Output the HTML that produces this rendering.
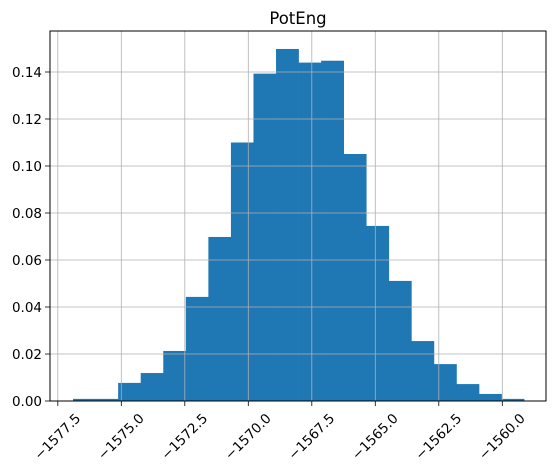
<!DOCTYPE html>
<html><head><meta charset="utf-8"><style>
html,body{margin:0;padding:0;background:#fff;width:556px;height:473px;overflow:hidden}
text{font-family:"DejaVu Sans","Liberation Sans",sans-serif;fill:#000}
</style></head><body>
<svg id="chart" width="556" height="473" viewBox="0 0 556 473" xmlns="http://www.w3.org/2000/svg">
<text x="298" y="24" text-anchor="middle" font-size="16.5">PotEng</text>
<g id="grid"></g>
<g id="bars"></g>
<g id="axes"></g>
</svg>
<script>
const binStart = -1576.90;
const binWidth = 0.888;
const densities = [0.0009,0.0009,0.0077,0.0119,0.0213,0.0443,0.0698,0.110,0.1393,0.1498,0.1440,0.1448,0.1051,0.0745,0.0511,0.0255,0.0157,0.0072,0.003,0.0009];
const xTicks = [-1577.5,-1575.0,-1572.5,-1570.0,-1567.5,-1565.0,-1562.5,-1560.0];
const yTicks = [0,0.02,0.04,0.06,0.08,0.10,0.12,0.14];

const L=50,R=546,T=31,B=401;
const xs = v => 248.3 + (v + 1570) * 25.4;
const ys = v => 401 - v * (47/0.02);
const NS='http://www.w3.org/2000/svg';
function mk(tag, parent){const e=document.createElementNS(NS,tag);parent.appendChild(e);return e;}
const svg=document.getElementById('chart');
const grid=document.getElementById('grid'),bars=document.getElementById('bars'),axes=document.getElementById('axes');
xTicks.forEach(t=>{
  const l=mk('line',grid);
  
  
  l.setAttribute('x1',xs(t));l.setAttribute('x2',xs(t));l.setAttribute('y1',T);l.setAttribute('y2',B);
  l.setAttribute('stroke','#b0b0b0');l.setAttribute('stroke-width','0.8');
  const tk=mk('line',axes);
  
  
  tk.setAttribute('x1',xs(t));tk.setAttribute('x2',xs(t));tk.setAttribute('y1',B);tk.setAttribute('y2',B+5);
  tk.setAttribute('stroke','#000');tk.setAttribute('stroke-width','0.8');
  const tx=mk('text',axes);
  
  
  const x=xs(t),y=437;
  tx.setAttribute('x',x);tx.setAttribute('y',y);tx.setAttribute('text-anchor','middle');tx.setAttribute('font-size','13.5');
  tx.setAttribute('dominant-baseline','central');
  tx.setAttribute('transform','rotate(-45 '+x+' '+y+')');
  tx.textContent=t.toFixed(1).replace('-','\u2212');
});
yTicks.forEach(t=>{
  const l=mk('line',grid);
  
  
  l.setAttribute('x1',L);l.setAttribute('x2',R);l.setAttribute('y1',ys(t));l.setAttribute('y2',ys(t));
  l.setAttribute('stroke','#b0b0b0');l.setAttribute('stroke-width','0.8');
  const tk=mk('line',axes);
  
  
  tk.setAttribute('x1',L-5);tk.setAttribute('x2',L);tk.setAttribute('y1',ys(t));tk.setAttribute('y2',ys(t));
  tk.setAttribute('stroke','#000');tk.setAttribute('stroke-width','0.8');
  const tx=mk('text',axes);
  
  
  tx.setAttribute('x',L-8);tx.setAttribute('y',ys(t)+5);tx.setAttribute('text-anchor','end');tx.setAttribute('font-size','13.5');
  tx.textContent=t.toFixed(2);
});
densities.forEach((d,i)=>{
  const x0=xs(binStart+i*binWidth),x1=xs(binStart+(i+1)*binWidth);
  const r=mk('rect',bars);
  
  
  r.setAttribute('x',x0);r.setAttribute('width',x1-x0+0.3);r.setAttribute('y',ys(d));r.setAttribute('height',B-ys(d));
  r.setAttribute('fill','#1f77b4');
});
svg.insertBefore(bars,grid);
const f=mk('rect',axes);


f.setAttribute('x',L);f.setAttribute('y',T);f.setAttribute('width',R-L);f.setAttribute('height',B-T);
f.setAttribute('fill','none');f.setAttribute('stroke','#000');f.setAttribute('stroke-width','1');
</script>
</body></html>
